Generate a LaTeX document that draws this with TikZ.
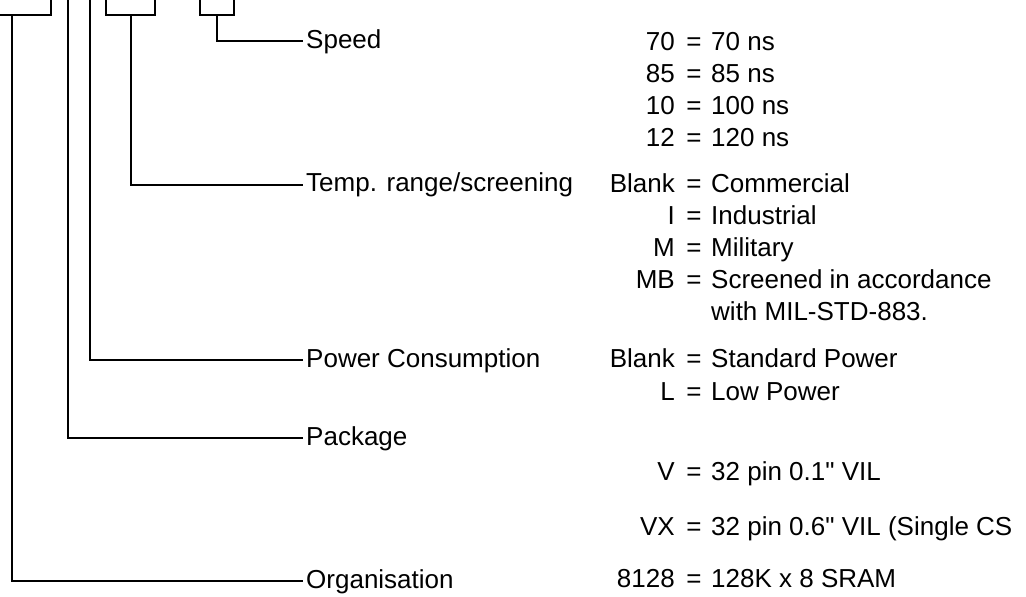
\documentclass[tikz,border=0pt]{standalone}
\usepackage{fontspec}
\setmainfont{Liberation Sans}[Ligatures=TeXOff]
\begin{document}
\begin{tikzpicture}[x=1pt,y=-1pt,
  wire/.style={line width=1.4pt,black},
  lbl/.style={inner sep=0pt,anchor=base west,font=\fontsize{26}{30}\selectfont},
  keyt/.style={inner sep=0pt,anchor=base east,font=\fontsize{26}{30}\selectfont},
  eqt/.style={inner sep=0pt,anchor=base,font=\fontsize{26}{30}\selectfont},
  valt/.style={inner sep=0pt,anchor=base west,font=\fontsize{26}{30}\selectfont}]
\useasboundingbox (0,0) rectangle (1026,597);
\clip (0,0) rectangle (1026,597);
% boxes at the top
\draw[wire] (-10,15) -- (51,15) -- (51,-10);
\draw[wire] (106,-10) -- (106,15) -- (155,15) -- (155,-10);
\draw[wire] (200,-10) -- (200,15) -- (234,15) -- (234,-10);
% stems
\coordinate (b1) at (12,15);
\coordinate (b4) at (68,-10);
\coordinate (b5) at (90,-10);
\coordinate (b2) at (131,15);
\coordinate (b3) at (217,15);
% line ends
\coordinate (eSpeed) at (303,41);
\coordinate (eTemp) at (303,185);
\coordinate (ePower) at (303,360);
\coordinate (ePack) at (303,438);
\coordinate (eOrg) at (303,581);
\draw[wire] (b3) |- (eSpeed);
\draw[wire] (b2) |- (eTemp);
\draw[wire] (b5) |- (ePower);
\draw[wire] (b4) |- (ePack);
\draw[wire] (b1) |- (eOrg);
% labels
\node[lbl] (lSpeed) at (306,48) {Speed};
\node[lbl] (lTemp) at (306,191) {Temp. range/screening};
\node[lbl] (lPower) at (306,367) {Power Consumption};
\node[lbl] (lPack) at (306,445) {Package};
\node[lbl] (lOrg) at (306,588) {Organisation};
% right column
\node[keyt] (k1) at (675,50) {70};   \node[eqt] (q1) at (694,50) {=};  \node[valt] (v1) at (711,50) {70 ns};
\node[keyt] (k2) at (675,82) {85};   \node[eqt] (q2) at (694,82) {=};  \node[valt] (v2) at (711,82) {85 ns};
\node[keyt] (k3) at (675,114) {10};  \node[eqt] (q3) at (694,114) {=}; \node[valt] (v3) at (711,114) {100 ns};
\node[keyt] (k4) at (675,146) {12};  \node[eqt] (q4) at (694,146) {=}; \node[valt] (v4) at (711,146) {120 ns};
\node[keyt] (k5) at (675,192) {Blank}; \node[eqt] (q5) at (694,192) {=}; \node[valt] (v5) at (711,192) {Commercial};
\node[keyt] (k6) at (675,224) {I};   \node[eqt] (q6) at (694,224) {=}; \node[valt] (v6) at (711,224) {Industrial};
\node[keyt] (k7) at (675,256) {M};   \node[eqt] (q7) at (694,256) {=}; \node[valt] (v7) at (711,256) {Military};
\node[keyt] (k8) at (675,288) {MB};  \node[eqt] (q8) at (694,288) {=}; \node[valt] (v8) at (711,288) {Screened in accordance};
\node[valt] (v8b) at (711,320) {with MIL-STD-883.};
\node[keyt] (k9) at (675,367) {Blank}; \node[eqt] (q9) at (694,367) {=}; \node[valt] (v9) at (711,367) {Standard Power};
\node[keyt] (k10) at (675,400) {L};  \node[eqt] (q10) at (694,400) {=}; \node[valt] (v10) at (711,400) {Low Power};
\node[keyt] (k11) at (675,480) {V};  \node[eqt] (q11) at (694,480) {=}; \node[valt] (v11) at (711,480) {32 pin 0.1" VIL};
\node[keyt] (k12) at (675,535) {VX}; \node[eqt] (q12) at (694,535) {=}; \node[valt] (v12) at (711,535) {32 pin 0.6" VIL (Single CS};
\node[keyt] (k13) at (675,587) {8128}; \node[eqt] (q13) at (694,587) {=}; \node[valt] (v13) at (711,587) {128K x 8 SRAM};
\end{tikzpicture}
\end{document}
